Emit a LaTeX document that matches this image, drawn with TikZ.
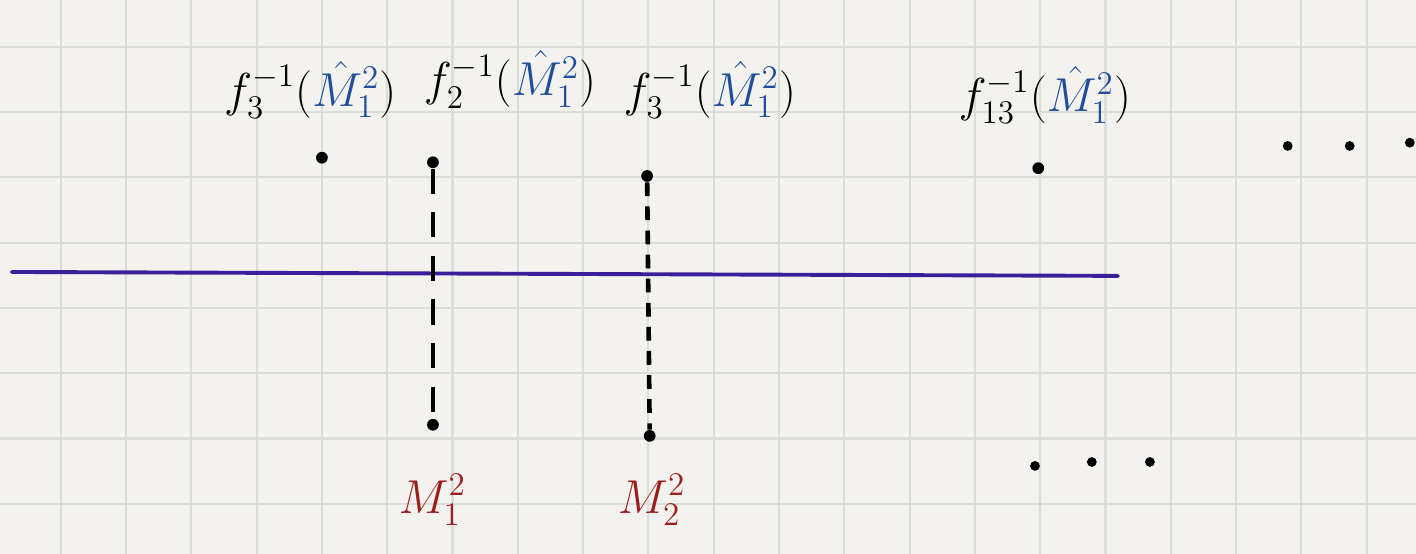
\documentclass[tikz,border=0pt]{standalone}
\usepackage{amsmath}
\usepackage{tikz}
\usepackage{xcolor}
\usetikzlibrary{positioning}
\definecolor{paper}{HTML}{F3F2EF}
\definecolor{gridgray}{HTML}{DCDCDA}
\definecolor{inkblue}{HTML}{1F4E9C}
\definecolor{inkred}{HTML}{9A1F1C}
\definecolor{inkpurple}{HTML}{3B1E9A}
\tikzset{
  dot/.style={circle, fill=black, inner sep=0pt, minimum size=0.18cm},
  farDot/.style={circle, fill=black, inner sep=0pt, minimum size=0.15cm},
  preimg/.style={font=\fontsize{21}{25}\selectfont, inner sep=0pt},
  meas/.style={font=\fontsize{22}{26}\selectfont, inner sep=0pt, text=inkred},
  guideLong/.style={line width=2pt, dash pattern=on 11pt off 8pt},
  guideShort/.style={line width=2pt, dash pattern=on 6pt off 4.5pt},
  baseline/.style={draw=inkpurple, line width=1.7pt, line cap=round},
  paperGrid/.style={draw=gridgray, line width=0.9pt},
}
\newcommand{\Mhat}{\textcolor{inkblue}{\hat{M}_1^2}}

\begin{document}
\begin{tikzpicture}
  \useasboundingbox (-0.93,0.715) rectangle (20.755,-7.769);
  \fill[paper] (-0.93,0.715) rectangle (20.755,-7.769);
  \draw[paperGrid, step=1] (-0.93,0.715) grid (20.755,-7.769);

  \node[preimg] (l1) at (3.82,-0.66)  {$f_3^{-1}(\Mhat)$};
  \node[preimg] (l2) at (6.88,-0.50)  {$f_2^{-1}(\Mhat)$};
  \node[preimg] (l3) at (9.94,-0.66)  {$f_3^{-1}(\Mhat)$};
  \node[preimg] (l4) at (15.07,-0.74) {$f_{13}^{-1}(\Mhat)$};

  \node[dot] (p1) at (4.00,-1.70) {};
  \node[dot] (p2) at (5.70,-1.77) {};
  \node[dot] (p3) at (8.98,-1.98) {};
  \node[dot] (p4) at (14.97,-1.86) {};

  \node[farDot] (t1) at (18.79,-1.52) {};
  \node[farDot] (t2) at (19.74,-1.52) {};
  \node[farDot] (t3) at (20.66,-1.47) {};

  \coordinate (lineL) at (-0.75,-3.45);
  \coordinate (lineR) at (16.19,-3.51);
  \draw[baseline] (lineL) -- (lineR);

  \node[dot] (q1) at (5.70,-5.79) {};
  \node[dot] (q2) at (9.02,-5.96) {};

  \draw[guideLong]  (p2) -- (q1);
  \draw[guideShort] (p3) -- (q2);

  \node[farDot] (b1) at (14.92,-6.42) {};
  \node[farDot] (b2) at (15.79,-6.36) {};
  \node[farDot] (b3) at (16.68,-6.36) {};

  \node[meas] (m1) at (5.69,-6.94) {$M_1^2$};
  \node[meas] (m2) at (9.05,-6.94) {$M_2^2$};
\end{tikzpicture}
\end{document}
